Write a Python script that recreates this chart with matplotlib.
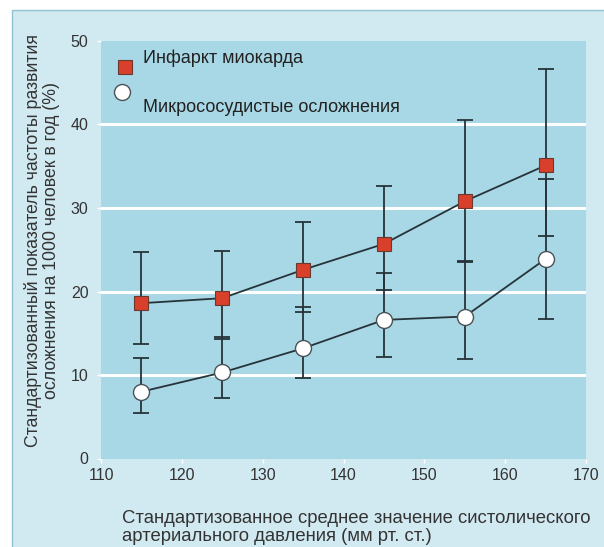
import matplotlib
matplotlib.use("Agg")
import matplotlib.pyplot as plt
from matplotlib.patches import Rectangle
from matplotlib.lines import Line2D
import numpy as np

# Data
sbp = [115, 125, 135, 145, 155, 165]
mi = [18.6, 19.2, 22.6, 25.7, 30.8, 35.1]
mi_low = [13.7, 14.3, 17.6, 20.2, 23.5, 26.6]
mi_high = [24.7, 24.8, 28.3, 32.6, 40.5, 46.6]
micro = [8.0, 10.3, 13.2, 16.6, 17.0, 23.9]
micro_low = [5.5, 7.3, 9.7, 12.1, 11.9, 16.7]
micro_high = [12.0, 14.6, 18.1, 22.2, 23.6, 33.5]
xticks = [110, 120, 130, 140, 150, 160, 170]
yticks = [0, 10, 20, 30, 40, 50]
label_mi = "Инфаркт миокарда"
label_micro = "Микрососудистые осложнения"
ylabel = "Стандартизованный показатель частоты развития\nосложнения на 1000 человек в год (%)"
xlabel = "Стандартизованное среднее значение систолического\nартериального давления (мм рт. ст.)"

plt.rcParams['font.family'] = ['Liberation Sans', 'DejaVu Sans']

fig = plt.figure(figsize=(6.04, 5.47), dpi=100)
fig.patch.set_facecolor('white')
# outer panel
panel = Rectangle((12/604, -0.01), 1.0, 1 - 10/547 + 0.01, transform=fig.transFigure,
                  facecolor='#d1e9f0', edgecolor='#8fc3d0', linewidth=1.0, zorder=-10)
fig.patches.append(panel)

ax = fig.add_axes([101/604, (547-458.5)/547, 485/604, 417.5/547])
ax.set_zorder(1)
ax.set_facecolor('#a8d7e5')
for s in ax.spines.values():
    s.set_visible(False)

line_col = '#26343a'
sq_style = dict(marker='s', ms=10, mfc='#d8402b', mec='#6a3a30', mew=0.8)
ci_style = dict(marker='o', ms=11.5, mfc='white', mec='#4a5256', mew=1.0)

ax.errorbar(sbp, mi, yerr=[np.array(mi) - np.array(mi_low), np.array(mi_high) - np.array(mi)],
            fmt='none', ecolor=line_col, elinewidth=1.3, capsize=5.5, capthick=1.3, zorder=3)
ax.errorbar(sbp, micro, yerr=[np.array(micro) - np.array(micro_low), np.array(micro_high) - np.array(micro)],
            fmt='none', ecolor=line_col, elinewidth=1.3, capsize=5.5, capthick=1.3, zorder=3)
ax.plot(sbp, mi, color=line_col, lw=1.3, zorder=4, **sq_style)
ax.plot(sbp, micro, color=line_col, lw=1.3, zorder=4, **ci_style)

ax.set_xlim(110, 170)
ax.set_ylim(0, 50)
ax.set_xticks(xticks)
ax.set_yticks(yticks)
ax.tick_params(axis='both', colors='white', length=3, width=1, labelsize=11.5, labelcolor='#333333')
ax.tick_params(axis='y', pad=6)
ax.tick_params(axis='x', pad=4)
ax.yaxis.grid(True, color='white', lw=2.2)
ax.set_axisbelow(True)
gls = ax.yaxis.get_gridlines()
gls[0].set_visible(False)
gls[-1].set_visible(False)

ax.set_ylabel(ylabel, fontsize=12.8, color='#333333', linespacing=1.05)
ax.yaxis.set_label_coords(-0.085, 0.523)
fig.text(122/604, 1 - 510/547, xlabel, fontsize=13.3, color='#333333', ha='left', va='top',
         linespacing=1.1)

# Legend (manual layout matching the reference)
def ax_frac(px, py):
    return ((px - 101) / 485, (458.5 - py) / 417.5)

lx, ly = ax_frac(125, 67)
ax.add_line(Line2D([lx], [ly], ls='none', transform=ax.transAxes, zorder=5, clip_on=False, **sq_style))
lx, ly = ax_frac(122, 92)
ax.add_line(Line2D([lx], [ly], ls='none', transform=ax.transAxes, zorder=5, clip_on=False, **ci_style))
tx, ty = ax_frac(143, 58)
ax.text(tx, ty, label_mi, transform=ax.transAxes, fontsize=13, color='#222222', va='center', ha='left')
tx, ty = ax_frac(143, 108)
ax.text(tx, ty, label_micro, transform=ax.transAxes, fontsize=13, color='#222222', va='center', ha='left')

fig.savefig('out.png', dpi=100)
